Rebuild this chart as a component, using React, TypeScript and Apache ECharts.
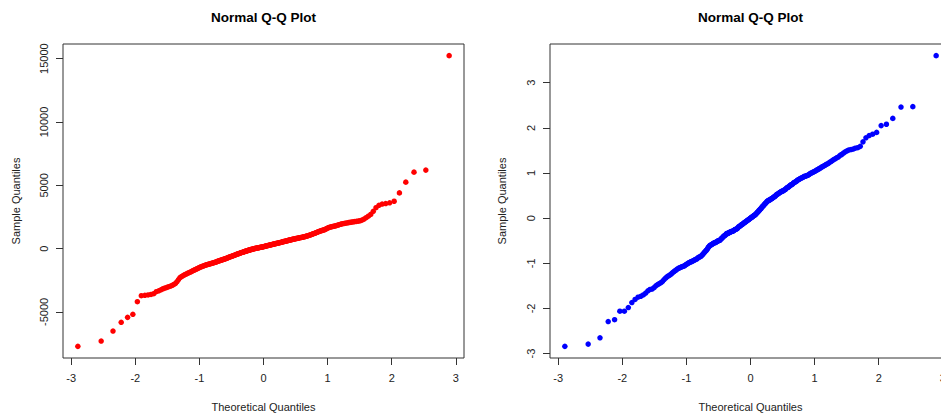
import React, { useEffect, useRef } from "react";
import * as echarts from "echarts";

// Sorted sample values (left: red series)
const leftSample: number[] = [
  -7720, -7300, -6510, -5820, -5430, -5190, -4190, -3720,
  -3690, -3660, -3620, -3560, -3400, -3330, -3250, -3170, -3110, -3060, -3010, -2960,
  -2900, -2830, -2740, -2600, -2440, -2300, -2220, -2150, -2090, -2040,
  -1990, -1940, -1900, -1850, -1810, -1760, -1720, -1680, -1640, -1600,
  -1560, -1520, -1480, -1450, -1420, -1390, -1360, -1330, -1300, -1280,
  -1260, -1240, -1220, -1200, -1180,
  -1160, -1140, -1120, -1100, -1080,
  -1060, -1040, -1010, -990, -970,
  -950, -930, -910, -890, -870,
  -850, -830, -810, -790, -770,
  -750, -730, -700, -680, -660,
  -640, -620, -600, -580, -560,
  -540, -520, -500, -470, -450,
  -430, -410, -400, -380, -360,
  -340, -320, -300, -290, -270,
  -250, -240, -220, -200, -190,
  -170, -160, -140, -120, -110,
  -100, -80, -70, -50, -40,
  -30, -20, 0, 10, 20,
  30, 40, 50, 60, 70,
  80, 90, 100, 110, 120,
  130, 140, 150,
  160, 180, 190,
  200, 210, 230, 240, 250,
  260, 280, 290, 300, 310,
  320, 340, 350, 360, 370,
  380, 400, 410, 420, 430,
  440, 460, 470, 480, 490,
  500, 520, 530, 550, 560,
  570, 580, 600, 610, 620,
  630, 650, 660, 680, 690,
  700, 710, 730, 740, 750,
  760, 770, 790, 800, 810,
  820, 830, 850, 860, 870,
  880, 890, 910, 920, 930,
  950, 970, 980, 1000, 1020,
  1040, 1060, 1090, 1110, 1130,
  1160, 1180, 1210, 1230, 1260,
  1290, 1320, 1340, 1370, 1400,
  1420, 1440, 1460, 1490, 1520, 1560, 1600, 1640, 1670, 1700,
  1720, 1740, 1760, 1780, 1800, 1830, 1860, 1890, 1920, 1950,
  1970, 1990, 2010, 2030, 2050, 2070, 2090, 2110, 2130, 2150,
  2170, 2200, 2250, 2330, 2440, 2560, 2700, 2950, 3230, 3420,
  3520, 3560, 3620, 3740, 4400, 5250, 6040, 6200, 15240,
];

// Sorted sample values (right: blue series)
const rightSample: number[] = [
  -2.84, -2.79, -2.65, -2.29, -2.25, -2.06, -2.06, -1.98, -1.87, -1.8,
  -1.75, -1.73, -1.7, -1.66, -1.61, -1.58, -1.57, -1.54, -1.5, -1.47,
  -1.45, -1.43, -1.4, -1.36, -1.33, -1.3, -1.28, -1.26, -1.24, -1.21,
  -1.19, -1.17, -1.15, -1.13, -1.11, -1.1, -1.09, -1.08, -1.07, -1.06,
  -1.05, -1.03, -1.02, -1.0, -0.99, -0.98, -0.97, -0.96, -0.95, -0.94,
  -0.93, -0.92, -0.91, -0.9, -0.88,
  -0.87, -0.86, -0.85, -0.84, -0.82,
  -0.8, -0.78, -0.76, -0.74, -0.72,
  -0.7, -0.68, -0.65, -0.63, -0.61,
  -0.6, -0.59, -0.58, -0.57, -0.56,
  -0.55, -0.54, -0.54, -0.53, -0.52,
  -0.51, -0.5, -0.5, -0.49, -0.48,
  -0.46, -0.45, -0.43, -0.42, -0.4,
  -0.39, -0.38, -0.37, -0.35, -0.34,
  -0.34, -0.33, -0.32, -0.32, -0.31,
  -0.3, -0.3, -0.29, -0.29, -0.28,
  -0.27, -0.26, -0.25, -0.25, -0.24,
  -0.23, -0.22, -0.2, -0.19, -0.18,
  -0.17, -0.16, -0.15, -0.14, -0.13,
  -0.12, -0.11, -0.1, -0.09, -0.08,
  -0.07, -0.06, -0.05, -0.04, -0.03,
  -0.02, -0.01, 0.0,
  0.01, 0.02, 0.03,
  0.04, 0.05, 0.06, 0.07, 0.08,
  0.09, 0.11, 0.12, 0.14, 0.15,
  0.17, 0.18, 0.2, 0.21, 0.23,
  0.25, 0.26, 0.28, 0.29, 0.31,
  0.32, 0.34, 0.35, 0.37, 0.38,
  0.39, 0.4, 0.4, 0.41, 0.42,
  0.43, 0.44, 0.45, 0.46, 0.47,
  0.48, 0.49, 0.51, 0.52, 0.53,
  0.54, 0.55, 0.56, 0.57, 0.58,
  0.59, 0.6, 0.6, 0.61, 0.62,
  0.63, 0.64, 0.66, 0.67, 0.68,
  0.69, 0.7, 0.72, 0.73, 0.74,
  0.75, 0.76, 0.78, 0.79, 0.8,
  0.81, 0.82, 0.84, 0.85, 0.86,
  0.87, 0.88, 0.89, 0.9, 0.91,
  0.92, 0.93, 0.93, 0.94, 0.95,
  0.96, 0.97, 0.99, 1.0, 1.01, 1.02, 1.03, 1.04, 1.06, 1.07,
  1.08, 1.1, 1.11, 1.13, 1.14, 1.16, 1.17, 1.19, 1.2, 1.22,
  1.24, 1.26, 1.28, 1.3, 1.32, 1.34, 1.36, 1.39, 1.41, 1.44,
  1.47, 1.49, 1.51, 1.52, 1.53, 1.55, 1.56, 1.59,
  1.69, 1.78, 1.83, 1.86, 1.9, 2.05, 2.08, 2.21, 2.46, 2.47, 3.6,
];

const xTicks: number[] = [-3, -2, -1, 0, 1, 2, 3];
const leftYTicks: number[] = [-5000, 0, 5000, 10000, 15000];
const rightYTicks: number[] = [-3, -2, -1, 0, 1, 2, 3];

const titles: string[] = ["Normal Q-Q Plot", "Normal Q-Q Plot"];
const xTitle = "Theoretical Quantiles";
const yTitle = "Sample Quantiles";

// Inverse standard normal CDF (Acklam)
function qnorm(p: number): number {
  const a = [-3.969683028665376e1, 2.209460984245205e2, -2.759285104469687e2, 1.38357751867269e2, -3.066479806614716e1, 2.506628277459239];
  const b = [-5.447609879822406e1, 1.615858368580409e2, -1.556989798598866e2, 6.680131188771972e1, -1.328068155288572e1];
  const c = [-7.784894002430293e-3, -3.223964580411365e-1, -2.400758277161838, -2.549732539343734, 4.374664141464968, 2.938163982698783];
  const d = [7.784695709041462e-3, 3.224671290700398e-1, 2.445134137142996, 3.754408661907416];
  const pl = 0.02425;
  if (p < pl) {
    const q = Math.sqrt(-2 * Math.log(p));
    return (((((c[0] * q + c[1]) * q + c[2]) * q + c[3]) * q + c[4]) * q + c[5]) / ((((d[0] * q + d[1]) * q + d[2]) * q + d[3]) * q + 1);
  }
  if (p > 1 - pl) {
    const q = Math.sqrt(-2 * Math.log(1 - p));
    return -(((((c[0] * q + c[1]) * q + c[2]) * q + c[3]) * q + c[4]) * q + c[5]) / ((((d[0] * q + d[1]) * q + d[2]) * q + d[3]) * q + 1);
  }
  const q = p - 0.5;
  const r = q * q;
  return ((((((a[0] * r + a[1]) * r + a[2]) * r + a[3]) * r + a[4]) * r + a[5]) * q) / (((((b[0] * r + b[1]) * r + b[2]) * r + b[3]) * r + b[4]) * r + 1);
}

function qqPairs(sample: number[]): number[][] {
  const n = sample.length;
  return sample.map((v, i) => [qnorm((i + 0.5) / n), v]);
}

function ext(vals: number[]): [number, number] {
  const lo = Math.min(...vals);
  const hi = Math.max(...vals);
  const r = hi - lo;
  return [lo - 0.04 * r, hi + 0.04 * r];
}

const FONT = '"Liberation Sans", Arial, Helvetica, sans-serif';

export default function App() {
  const ref = useRef<HTMLDivElement>(null);
  useEffect(() => {
    if (!ref.current) return;
    const chart = echarts.init(ref.current, undefined, { renderer: "svg" });
    const leftData = qqPairs(leftSample);
    const rightData = qqPairs(rightSample);
    const xl = ext(leftData.map((d) => d[0]));
    const xr = ext(rightData.map((d) => d[0]));
    const yl = ext(leftSample);
    const yr = ext(rightSample);

    const grids = [
      { left: 63, top: 44, width: 401, height: 314 },
      { left: 550, top: 44, width: 401, height: 314 },
    ];

    const mkX = (idx: number, lim: [number, number]) => ({
      type: "value",
      gridIndex: idx,
      min: lim[0],
      max: lim[1],
      axisLine: { show: false, onZero: false },
      axisTick: { show: true, inside: false, length: 7, customValues: xTicks, lineStyle: { color: "#333", width: 1 } },
      axisLabel: {
        show: true,
        customValues: xTicks,
        margin: 14,
        color: "#222",
        fontSize: 11,
        fontFamily: FONT,
        formatter: (v: number) => String(v),
      },
      splitLine: { show: false },
    });
    const mkY = (idx: number, lim: [number, number], ticks: number[]) => ({
      type: "value",
      gridIndex: idx,
      min: lim[0],
      max: lim[1],
      axisLine: { show: false, onZero: false },
      axisTick: { show: true, inside: false, length: 7, customValues: ticks, lineStyle: { color: "#333", width: 1 } },
      axisLabel: {
        show: true,
        customValues: ticks,
        rotate: 90,
        margin: 14,
        color: "#222",
        fontSize: 11,
        fontFamily: FONT,
        formatter: (v: number) => String(v),
      },
      splitLine: { show: false },
    });

    const txt = (text: string, x: number, y: number, opts: any = {}) => ({
      type: "text",
      x,
      y,
      rotation: opts.rotation || 0,
      silent: true,
      style: {
        text,
        align: "center",
        verticalAlign: "middle",
        fill: opts.fill || "#222",
        fontSize: opts.fontSize || 11,
        fontWeight: opts.fontWeight || "normal",
        fontFamily: FONT,
      },
    });

    chart.setOption({
      animation: false,
      backgroundColor: "#fff",
      grid: grids.map((g) => ({
        ...g,
        show: true,
        borderColor: "#333",
        borderWidth: 1,
        backgroundColor: "transparent",
        containLabel: false,
      })),
      xAxis: [mkX(0, xl), mkX(1, xr)],
      yAxis: [mkY(0, yl, leftYTicks), mkY(1, yr, rightYTicks)],
      series: [
        {
          type: "scatter",
          xAxisIndex: 0,
          yAxisIndex: 0,
          data: leftData,
          symbol: "circle",
          symbolSize: 5.5,
          itemStyle: { color: "#ff0000", opacity: 1 },
          silent: true,
        },
        {
          type: "scatter",
          xAxisIndex: 1,
          yAxisIndex: 1,
          data: rightData,
          symbol: "circle",
          symbolSize: 5.5,
          itemStyle: { color: "#0000ff", opacity: 1 },
          silent: true,
        },
      ],
      graphic: [
        txt(titles[0], 263.5, 17, { fontSize: 13.5, fontWeight: "bold", fill: "#000" }),
        txt(titles[1], 750.5, 17, { fontSize: 13.5, fontWeight: "bold", fill: "#000" }),
        txt(xTitle, 263.5, 407, {}),
        txt(xTitle, 750.5, 407, {}),
        txt(yTitle, 16, 201, { rotation: Math.PI / 2 }),
        txt(yTitle, 502, 201, { rotation: Math.PI / 2 }),
      ],
    });
    return () => chart.dispose();
  }, []);
  return (
    <div style={{ position: "fixed", left: 0, top: 0, width: 941, height: 415, overflow: "hidden", background: "#fff" }}>
      <div ref={ref} style={{ width: 970, height: 415 }} />
    </div>
  );
}
